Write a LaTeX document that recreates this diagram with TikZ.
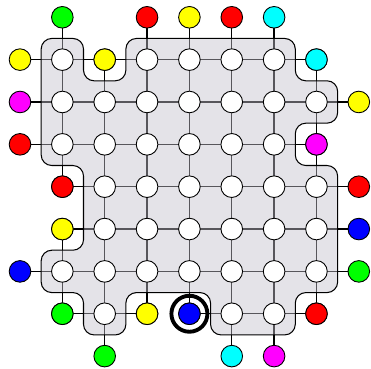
\documentclass[tikz,border=0pt]{standalone}
\usepackage{tikz}
\begin{document}
\begin{tikzpicture}[
  dot/.style={circle,draw=black,line width=0.6pt,minimum size=0.51cm,inner sep=0pt,fill=#1},
  edge/.style={line width=0.9pt,draw=black},
  regionfill/.style={fill={rgb,255:red,195;green,192;blue,203},fill opacity=0.45,rounded corners=0.25cm},
  regionline/.style={draw=black,line width=0.7pt,rounded corners=0.25cm},
  ring/.style={circle,draw=black,line width=2.6pt,minimum size=0.85cm,inner sep=0pt}
]
\useasboundingbox (-0.472,0.408) rectangle (8.288,-8.295);
% colours
\definecolor{cgreen}{rgb}{0,1,0}
\definecolor{cred}{rgb}{1,0,0}
\definecolor{cyel}{rgb}{1,1,0}
\definecolor{cmag}{rgb}{1,0,1}
\definecolor{ccyan}{rgb}{0,1,1}
\definecolor{cblue}{rgb}{0,0,1}
% coordinates of all positions
\foreach \i in {0,...,8}{\foreach \j in {0,...,8}{\coordinate (p-\i-\j) at (\i,-\j);}}
% inner grid edges
\foreach \i in {1,...,6}{\foreach \j in {1,...,7}{
  \pgfmathtruncatemacro{\k}{\i+1}
  \ifnum\i=3 \ifnum\j=7 \else \draw[edge] (p-\i-\j) -- (p-\k-\j); \fi \else \draw[edge] (p-\i-\j) -- (p-\k-\j); \fi
}}
\foreach \i in {1,...,7}{\foreach \j in {1,...,6}{
  \pgfmathtruncatemacro{\k}{\j+1}
  \ifnum\i=1 \ifnum\j=4 \else \draw[edge] (p-\i-\j) -- (p-\i-\k); \fi \else \draw[edge] (p-\i-\j) -- (p-\i-\k); \fi
}}
% border edges
\foreach \i in {1,3,4,5,6}{\draw[edge] (p-\i-0) -- (p-\i-1);}
\foreach \j in {1,2,3,6}{\draw[edge] (p-0-\j) -- (p-1-\j);}
\foreach \j in {2,4,5,6}{\draw[edge] (p-8-\j) -- (p-7-\j);}
\foreach \i in {2,5,6}{\draw[edge] (p-\i-8) -- (p-\i-7);}
% shaded region
\def\regionpath{(1.0,-0.5) -- (1.5,-0.5) -- (1.5,-1.5) -- (2.5,-1.5) -- (2.5,-0.5)
  -- (6.5,-0.5) -- (6.5,-1.5) -- (7.5,-1.5) -- (7.5,-2.5) -- (6.5,-2.5)
  -- (6.5,-3.5) -- (7.5,-3.5) -- (7.5,-6.5) -- (6.5,-6.5) -- (6.5,-7.5)
  -- (4.5,-7.5) -- (4.5,-6.5) -- (2.5,-6.5) -- (2.5,-7.5) -- (1.5,-7.5)
  -- (1.5,-6.5) -- (0.5,-6.5) -- (0.5,-5.5) -- (1.5,-5.5) -- (1.5,-3.5)
  -- (0.5,-3.5) -- (0.5,-0.5) -- cycle}
\path[regionfill] \regionpath;
\path[regionline] \regionpath;
% white inner nodes
\foreach \i in {1,...,7}{\foreach \j in {1,...,7}{\node[dot=white] (n-\i-\j) at (p-\i-\j) {};}}
% coloured nodes
\node[dot=cgreen] (n-1-0) at (p-1-0) {};
\node[dot=cred]   (n-3-0) at (p-3-0) {};
\node[dot=cyel]   (n-4-0) at (p-4-0) {};
\node[dot=cred]   (n-5-0) at (p-5-0) {};
\node[dot=ccyan]  (n-6-0) at (p-6-0) {};
\node[dot=cyel]   (n-0-1) at (p-0-1) {};
\node[dot=cyel]   (c-2-1) at (p-2-1) {};
\node[dot=ccyan]  (c-7-1) at (p-7-1) {};
\node[dot=cmag]   (n-0-2) at (p-0-2) {};
\node[dot=cyel]   (n-8-2) at (p-8-2) {};
\node[dot=cred]   (n-0-3) at (p-0-3) {};
\node[dot=cmag]   (c-7-3) at (p-7-3) {};
\node[dot=cred]   (c-1-4) at (p-1-4) {};
\node[dot=cred]   (n-8-4) at (p-8-4) {};
\node[dot=cyel]   (c-1-5) at (p-1-5) {};
\node[dot=cblue]  (n-8-5) at (p-8-5) {};
\node[dot=cblue]  (n-0-6) at (p-0-6) {};
\node[dot=cgreen] (n-8-6) at (p-8-6) {};
\node[dot=cgreen] (c-1-7) at (p-1-7) {};
\node[dot=cyel]   (c-3-7) at (p-3-7) {};
\node[dot=cblue]  (c-4-7) at (p-4-7) {};
\node[dot=cred]   (c-7-7) at (p-7-7) {};
\node[dot=cgreen] (n-2-8) at (p-2-8) {};
\node[dot=ccyan]  (n-5-8) at (p-5-8) {};
\node[dot=cmag]   (n-6-8) at (p-6-8) {};
\node[ring] (r) at (p-4-7) {};
\end{tikzpicture}
\end{document}
